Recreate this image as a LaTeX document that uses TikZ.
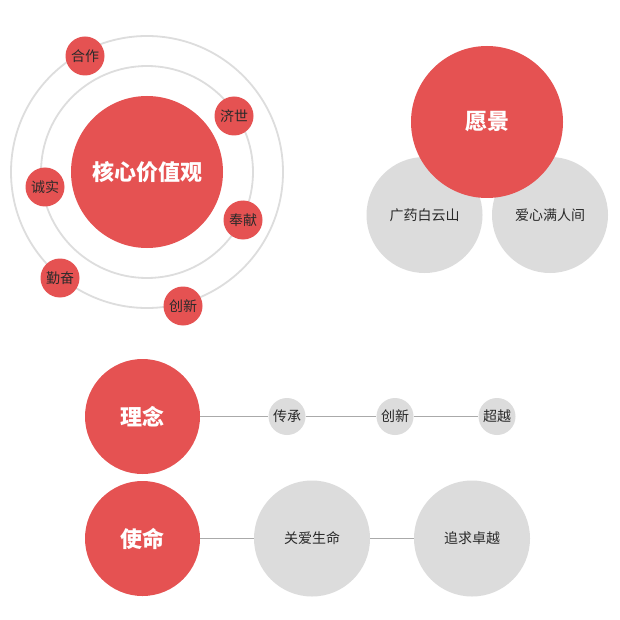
\documentclass[tikz,border=0pt]{standalone}
\usepackage{fontspec}
\setmainfont{Noto Sans CJK SC}
\definecolor{cred}{HTML}{E55252}
\definecolor{cgray}{HTML}{DCDCDC}
\definecolor{cring}{HTML}{DDDDDD}
\definecolor{cline}{HTML}{AAAAAA}
\definecolor{ctext}{HTML}{2A2A2A}
\begin{document}
\begin{tikzpicture}[x=1pt,y=-1pt,
  bigred/.style={circle,fill=cred,inner sep=0pt,minimum size=#1,text=white,font=\fontsize{22}{25}\selectfont\bfseries},
  smallred/.style={circle,fill=cred,inner sep=0pt,minimum size=39pt,text=ctext,font=\fontsize{14}{16}\selectfont},
  graydisc/.style={circle,fill=cgray,inner sep=0pt,minimum size=#1,text=ctext,font=\fontsize{14}{16}\selectfont},
  ring/.style={draw=cring,line width=1.8pt},
  link/.style={draw=cline,line width=1.3pt}]
\fill[white] (0,0) rectangle (620,620);
\useasboundingbox (0,0) rectangle (620,620);
% core values
\coordinate (c0) at (147,172);
\draw[ring] (c0) circle[radius=136];
\draw[ring] (c0) circle[radius=106];
\node[bigred=152pt] (core) at (c0) {核心价值观};
\node[smallred] (hz) at (85,56) {合作};
\node[smallred] (js) at (234,116) {济世};
\node[smallred] (cs) at (45,187) {诚实};
\node[smallred] (fx) at (243,220) {奉献};
\node[smallred] (qf) at (60,278) {勤奋};
\node[smallred] (cx1) at (183,306) {创新};
% vision
\node[graydisc=116pt] (gy) at (424.5,215) {广药白云山};
\node[graydisc=116pt] (ax) at (550,215) {爱心满人间};
\node[bigred=152pt] (yj) at (487,122) {愿景};
% philosophy
\node[bigred=115pt] (ln) at (142.5,416.5) {理念};
\node[graydisc=37pt] (cc) at (287,416.5) {传承};
\node[graydisc=37pt] (cx2) at (395,416.5) {创新};
\node[graydisc=37pt] (cy) at (497,416.5) {超越};
\draw[link] (ln) -- (cc);
\draw[link] (cc) -- (cx2);
\draw[link] (cx2) -- (cy);
% mission
\node[bigred=115pt] (sm) at (142.5,538.5) {使命};
\node[graydisc=116pt] (ga) at (312,538.5) {关爱生命};
\node[graydisc=116pt] (zq) at (472,538.5) {追求卓越};
\draw[link] (sm) -- (ga);
\draw[link] (ga) -- (zq);
\end{tikzpicture}
\end{document}
